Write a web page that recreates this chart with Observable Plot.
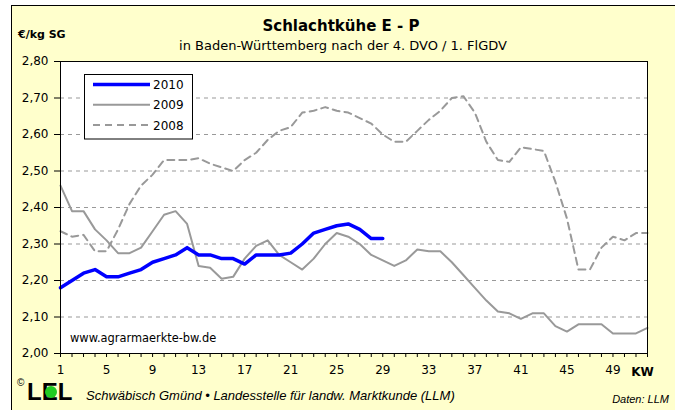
<!DOCTYPE html>
<html><head><meta charset="utf-8">
<script src="https://cdn.jsdelivr.net/npm/d3@7"></script>
<script src="https://cdn.jsdelivr.net/npm/@observablehq/plot@0.6"></script>
<style>
html,body{margin:0;padding:0;background:#fff;}
#wrap{position:relative;width:675px;height:410px;overflow:hidden;}
#bg{position:absolute;left:11px;top:5px;right:0;bottom:0;background:#FFFFCC;border-left:1px solid #000;border-top:1px solid #000;}
#chart{position:absolute;left:0;top:0;}
#deco{position:absolute;left:0;top:0;}
</style></head><body>
<div id="wrap"><div id="bg"></div><div id="chart"></div><svg id="deco" width="675" height="410"></svg></div>
<script>
const weeks = [1,2,3,4,5,6,7,8,9,10,11,12,13,14,15,16,17,18,19,20,21,22,23,24,25,26,27,28,29,30,31,32,33,34,35,36,37,38,39,40,41,42,43,44,45,46,47,48,49,50,51,52];
const xLabelWeeks = [1,5,9,13,17,21,25,29,33,37,41,45,49];
const yTicks = [2.0,2.1,2.2,2.3,2.4,2.5,2.6,2.7,2.8];
const gridValues = [2.1,2.2,2.3,2.4,2.5,2.6,2.7];
const years = ["2010","2009","2008"];

const values2010 = [2.18,2.20,2.22,2.23,2.21,2.21,2.22,2.23,2.25,2.26,2.27,2.29,2.27,2.27,2.26,2.26,2.245,2.27,2.27,2.27,2.275,2.30,2.33,2.34,2.35,2.355,2.34,2.315,2.315];
const values2009 = [2.46,2.39,2.39,2.34,2.31,2.275,2.275,2.29,2.335,2.38,2.39,2.355,2.24,2.235,2.205,2.21,2.26,2.295,2.31,2.27,2.25,2.23,2.26,2.30,2.33,2.32,2.30,2.27,2.255,2.24,2.255,2.285,2.28,2.28,2.25,2.215,2.18,2.145,2.115,2.11,2.095,2.11,2.11,2.075,2.06,2.08,2.08,2.08,2.055,2.055,2.055,2.07];
const values2008 = [2.335,2.32,2.325,2.28,2.28,2.34,2.41,2.46,2.49,2.53,2.53,2.53,2.535,2.52,2.51,2.50,2.53,2.55,2.585,2.61,2.62,2.66,2.665,2.675,2.665,2.66,2.645,2.63,2.60,2.58,2.58,2.61,2.64,2.665,2.70,2.705,2.66,2.58,2.53,2.525,2.565,2.56,2.555,2.47,2.37,2.23,2.23,2.29,2.32,2.31,2.33,2.33];

const rows = (vals, year) => vals.map((v, i) => ({week: weeks[i], value: v, year}));
const styles = {
  "2010": {stroke: "#0000FF", strokeWidth: 3.5, dash: null},
  "2009": {stroke: "#999999", strokeWidth: 2, dash: null},
  "2008": {stroke: "#999999", strokeWidth: 2, dash: "7,5"}
};

const plot = Plot.plot({
  width: 675, height: 410,
  marginLeft: 60, marginRight: 28, marginTop: 61, marginBottom: 57,
  x: {domain: [weeks[0], weeks[weeks.length - 1]]},
  y: {domain: [yTicks[0], yTicks[yTicks.length - 1]]},
  style: {background: "transparent", fontFamily: "DejaVu Sans", fontSize: "12px", color: "#000", overflow: "visible"},
  marks: [
    Plot.frame({fill: "#fff"}),
    Plot.ruleY(gridValues, {stroke: "#999", strokeDasharray: "4,4", strokeWidth: 1}),
    Plot.line(rows(values2008, "2008"), {x: "week", y: "value", stroke: styles["2008"].stroke, strokeWidth: 2, strokeDasharray: styles["2008"].dash}),
    Plot.line(rows(values2009, "2009"), {x: "week", y: "value", stroke: styles["2009"].stroke, strokeWidth: 2}),
    Plot.line(rows(values2010, "2010"), {x: "week", y: "value", stroke: styles["2010"].stroke, strokeWidth: 3.5}),
    Plot.axisY(yTicks, {tickSize: 6, tickPadding: 6, tickFormat: d => d.toFixed(2).replace(".", ","), label: null, fontSize: 12}),
    Plot.axisX(weeks, {tickSize: 4, tickFormat: () => "", label: null}),
    Plot.text(xLabelWeeks, {x: d => d, frameAnchor: "bottom", dy: 20.5, text: d => String(d), fontSize: 12}),
    Plot.frame({stroke: "#000"})
  ]
});
document.getElementById("chart").appendChild(plot);

const ns = "http://www.w3.org/2000/svg";
const deco = document.getElementById("deco");
function el(tag, attrs, text) {
  const e = document.createElementNS(ns, tag);
  for (const k in attrs) e.setAttribute(k, attrs[k]);
  if (text != null) e.textContent = text;
  deco.appendChild(e);
  return e;
}
const dv = "DejaVu Sans", ls = "Liberation Sans";
el("text", {x: 18, y: 38, "font-family": dv, "font-weight": "bold", "font-size": 11}, "€/kg SG");
el("text", {x: 341, y: 31, "font-family": dv, "font-weight": "bold", "font-size": 15, "text-anchor": "middle"}, "Schlachtkühe E - P");
el("text", {x: 343, y: 50, "font-family": dv, "font-size": 13, "text-anchor": "middle"}, "in Baden-Württemberg nach der 4. DVO / 1. FlGDV");
el("text", {x: 70, y: 342, "font-family": dv, "font-size": 11.4}, "www.agrarmaerkte-bw.de");
el("text", {x: 642.5, y: 376, "font-family": dv, "font-weight": "bold", "font-size": 12, "text-anchor": "middle"}, "KW");
el("text", {x: 17, y: 386, "font-family": ls, "font-size": 10}, "©");
el("text", {x: 27, y: 400, "font-family": ls, "font-weight": "bold", "font-size": 24}, "LEL");
el("circle", {cx: 51, cy: 392, r: 6, fill: "#22CC22"});
el("text", {x: 86, y: 400, "font-family": ls, "font-style": "italic", "font-size": 13}, "Schwäbisch Gmünd • Landesstelle für landw. Marktkunde (LLM)");
el("text", {x: 669, y: 403, "font-family": ls, "font-style": "italic", "font-size": 11, "text-anchor": "end"}, "Daten: LLM");

// legend
el("rect", {x: 84.5, y: 74.5, width: 108, height: 64.5, fill: "#fff", stroke: "#000", "stroke-width": 1});
years.forEach((yr, i) => {
  const cy = 84.5 + i * 20.3;
  const s = styles[yr];
  const ln = el("line", {x1: 93, x2: 150, y1: cy, y2: cy, stroke: s.stroke, "stroke-width": s.strokeWidth});
  if (s.dash) ln.setAttribute("stroke-dasharray", s.dash);
  el("text", {x: 153, y: cy + 4.5, "font-family": dv, "font-size": 12}, yr);
});
</script>
</body></html>
